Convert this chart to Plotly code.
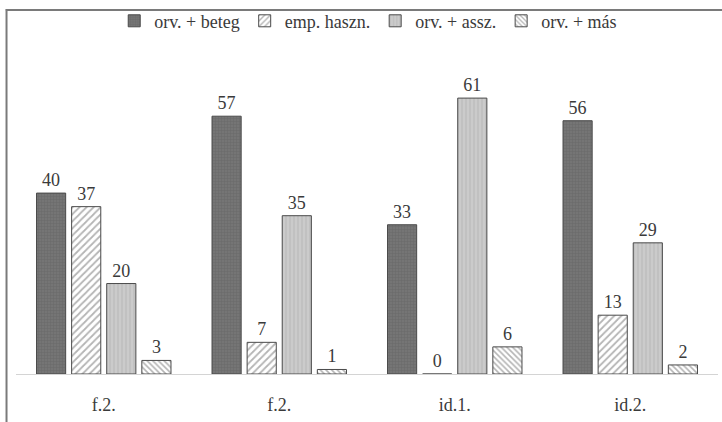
import plotly.graph_objects as go

categories = ["f.2.", "f.2.", "id.1.", "id.2."]
series_names = ["orv. + beteg", "emp. haszn.", "orv. + assz.", "orv. + más"]
orv_beteg = [40, 57, 33, 56]
emp_haszn = [37, 7, 0, 13]
orv_assz = [20, 35, 61, 29]
orv_mas = [3, 1, 6, 2]

series_values = [orv_beteg, emp_haszn, orv_assz, orv_mas]
x_pos = list(range(len(categories)))

SERIF = "'Liberation Serif', 'Times New Roman', serif"

styles = [
    dict(bg="#757575", fg="#5a5a5a", shape="+", size=3, solidity=0.3),
    dict(bg="#ffffff", fg="#6a6a6a", shape="/", size=5, solidity=0.35),
    dict(bg="#cbcbcb", fg="#a9a9a9", shape="|", size=4, solidity=0.3),
    dict(bg="#ffffff", fg="#6a6a6a", shape="\\", size=4, solidity=0.4),
]

fig = go.Figure()
for name, vals, st in zip(series_names, series_values, styles):
    fig.add_trace(go.Bar(
        x=x_pos, y=vals, name=name,
        text=[str(v) for v in vals], textposition="outside",
        textfont=dict(family=SERIF, size=18, color="#3a3a3a"),
        marker=dict(
            color=st["bg"],
            line=dict(color="#4a4a4a", width=1),
            pattern=dict(shape=st["shape"], fgcolor=st["fg"], bgcolor=st["bg"],
                         size=st["size"], solidity=st["solidity"]),
        ),
        cliponaxis=False,
    ))

fig.update_layout(
    width=722, height=422,
    margin=dict(l=16, r=4, t=9, b=48, autoexpand=False),
    paper_bgcolor="white", plot_bgcolor="white",
    barmode="group", bargap=0.2, bargroupgap=0.17,
    font=dict(family=SERIF, size=18, color="#3a3a3a"),
    showlegend=True,
    legend=dict(orientation="h", xref="container", yref="container",
                x=0.51, xanchor="center", y=0.950, yanchor="middle",
                font=dict(family=SERIF, size=18, color="#3a3a3a"),
                itemwidth=30, traceorder="normal",
                bgcolor="rgba(255,255,255,0)", borderwidth=0),
    xaxis=dict(tickmode="array", tickvals=x_pos, ticktext=categories,
               range=[-0.5, len(categories) - 0.5],
               showline=True, linecolor="#d4d4d4", linewidth=1,
               ticks="outside", ticklen=14, tickcolor="rgba(0,0,0,0)",
               showgrid=False, zeroline=False,
               tickfont=dict(family=SERIF, size=18, color="#3a3a3a")),
    yaxis=dict(range=[0, 80.7], visible=False, showgrid=False, zeroline=False),
)

# outer frame: left and top edges
fig.add_shape(type="line", xref="paper", yref="paper",
              x0=-0.0135, x1=-0.0135, y0=-0.2, y1=1.0,
              line=dict(color="#7a7a7a", width=2), layer="above")
fig.add_shape(type="line", xref="paper", yref="paper",
              x0=-0.0145, x1=1.05, y0=0.997, y1=0.997,
              line=dict(color="#7a7a7a", width=2), layer="above")

fig.write_html("out.html", config={"displayModeBar": False},
               post_script="document.body.style.margin='0';document.body.style.padding='0';")
